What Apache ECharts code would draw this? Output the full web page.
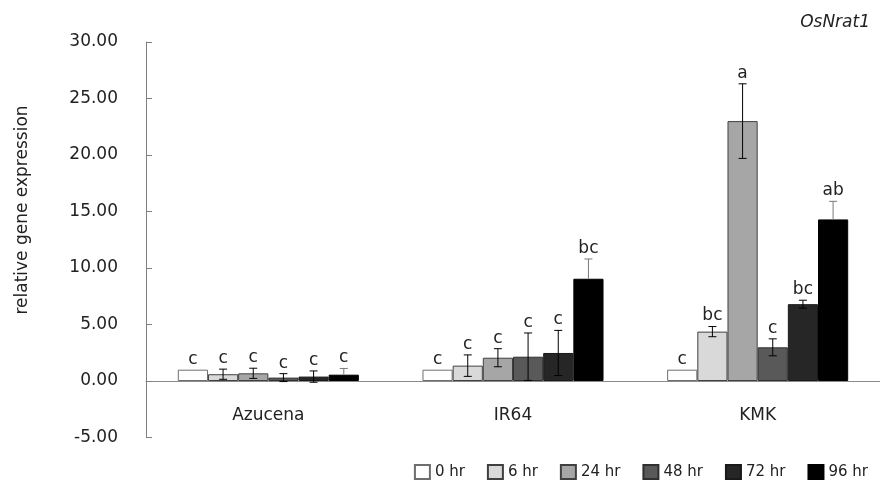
<!DOCTYPE html>
<html>
<head>
<meta charset="utf-8">
<script src="https://cdn.jsdelivr.net/npm/echarts@6/dist/echarts.min.js"></script>
<style>
  html, body { margin: 0; padding: 0; background: #fff; }
  #chart { width: 880px; height: 483px; }
</style>
</head>
<body>
<div id="chart"></div>
<script>
const categories = ["Azucena", "IR64", "KMK"];
const timePoints = ["0 hr", "6 hr", "24 hr", "48 hr", "72 hr", "96 hr"];

// mean relative expression, one array per time point (Azucena, IR64, KMK)
const h0 = [1.0, 1.0, 1.0];
const h6 = [0.6, 1.36, 4.37];
const h24 = [0.68, 2.06, 23.0];
const h48 = [0.3, 2.15, 2.98];
const h72 = [0.39, 2.48, 6.8];
const h96 = [0.56, 9.05, 14.3];

// error bars
const e0 = [0, 0, 0];
const e6 = [0.45, 0.95, 0.45];
const e24 = [0.45, 0.8, 3.3];
const e48 = [0.35, 2.1, 0.75];
const e72 = [0.5, 2.0, 0.35];
const e96 = [0.55, 1.75, 1.6];

// significance letters
const l0 = ["c", "c", "c"];
const l6 = ["c", "c", "bc"];
const l24 = ["c", "c", "a"];
const l48 = ["c", "c", "c"];
const l72 = ["c", "c", "bc"];
const l96 = ["c", "bc", "ab"];

const yTicks = [-5, 0, 5, 10, 15, 20, 25, 30];

const means = [h0, h6, h24, h48, h72, h96];
const errs = [e0, e6, e24, e48, e72, e96];
const letters = [l0, l6, l24, l48, l72, l96];
const fills = ["#ffffff", "#d9d9d9", "#a6a6a6", "#595959", "#262626", "#000000"];
const borders = ["#6e6e6e", "#404040", "#404040", "#303030", "#1a1a1a", "#000000"];
const errColors = ["#000", "#000", "#000", "#000", "#000", "#7a7a7a"];
const font = "DejaVu Sans";
const gapRatio = 0.26;

const chart = echarts.init(document.getElementById("chart"));

const barSeries = timePoints.map((name, t) => ({
  name: name,
  type: "bar",
  barGap: "0%",
  barCategoryGap: gapRatio * 100 + "%",
  itemStyle: { color: fills[t], borderColor: borders[t], borderWidth: 1 },
  data: means[t]
}));

const errSeries = timePoints.map((name, t) => ({
  name: "err " + name,
  type: "custom",
  z: 5,
  silent: true,
  data: categories.map((c, i) => [i, means[t][i], errs[t][i]]),
  renderItem: function (params, api) {
    const ci = api.value(0);
    const m = api.value(1);
    const e = api.value(2);
    const band = api.size([1, 0])[0];
    const bw = band * (1 - gapRatio) / timePoints.length;
    const x = api.coord([ci, 0])[0] + (t - (timePoints.length - 1) / 2) * bw;
    const yTop = api.coord([ci, m + e])[1];
    const yMean = api.coord([ci, m])[1];
    const yBot = t === 5 ? yMean : api.coord([ci, m - e])[1];
    const style = { stroke: errColors[t], lineWidth: 1 };
    const children = [];
    if (e > 0) {
      children.push({ type: "line", shape: { x1: x, y1: yTop, x2: x, y2: yBot }, style: style });
      children.push({ type: "line", shape: { x1: x - 4, y1: yTop, x2: x + 4, y2: yTop }, style: style });
      if (t !== 5) {
        children.push({ type: "line", shape: { x1: x - 4, y1: yBot, x2: x + 4, y2: yBot }, style: style });
      }
    }
    children.push({
      type: "text",
      style: {
        text: letters[t][params.dataIndex],
        x: x,
        y: yTop - 2,
        align: "center",
        verticalAlign: "bottom",
        fontSize: 17,
        fontFamily: font,
        fill: "#222"
      }
    });
    return { type: "group", children: children };
  }
}));

const option = {
  animation: false,
  textStyle: { fontFamily: font },
  title: {
    text: "OsNrat1",
    right: 5,
    top: 9,
    textStyle: { fontSize: 17, fontStyle: "italic", fontWeight: "normal", color: "#222", fontFamily: font }
  },
  legend: {
    data: timePoints,
    right: 7,
    top: 459,
    icon: "rect",
    itemWidth: 15,
    itemHeight: 14,
    itemGap: 22,
    textStyle: { fontSize: 15, color: "#222", fontFamily: font }
  },
  graphic: [
    {
      type: "text",
      x: 23,
      y: 210,
      rotation: Math.PI / 2,
      style: {
        text: "relative gene expression",
        align: "center",
        verticalAlign: "middle",
        fontSize: 17,
        fontFamily: font,
        fill: "#222"
      }
    }
  ],
  grid: { left: 146, width: 737, top: 42, bottom: 45.5 },
  xAxis: {
    type: "category",
    data: categories,
    axisTick: { show: false },
    axisLine: { onZero: true, lineStyle: { color: "#8a8a8a", width: 1 } },
    axisLabel: { fontSize: 17, color: "#222", margin: -30, fontFamily: font }
  },
  yAxis: {
    type: "value",
    min: yTicks[0],
    max: yTicks[yTicks.length - 1],
    interval: 5,
    splitLine: { show: false },
    axisLine: { show: true, lineStyle: { color: "#7f7f7f", width: 1 } },
    axisTick: { show: true, inside: true, length: 6, lineStyle: { color: "#7f7f7f" } },
    axisLabel: {
      fontSize: 17,
      color: "#222",
      margin: 28,
      fontFamily: font,
      formatter: function (v) { return v.toFixed(2); }
    }
  },
  series: barSeries.concat(errSeries)
};

chart.setOption(option);
</script>
</body>
</html>
